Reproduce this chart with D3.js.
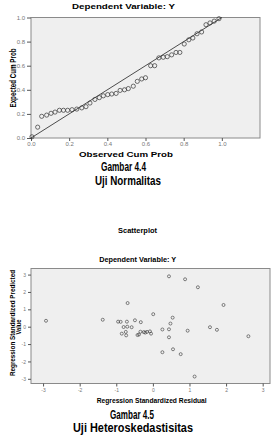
<!DOCTYPE html>
<html>
<head>
<script src="https://d3js.org/d3.v7.min.js"></script>
<style type="text/css">
    html, body {
        margin: 0;
        padding: 0;
        background: #fff;
    }
    svg {
        display: block;
        font-family: Arial, "Liberation Sans", sans-serif;
    }
    .tick text {
        fill: #777;
        font-size: 6px;
    }
    .tick line {
        stroke: #555;
    }
</style>
</head>
<body>
<div id="chart"></div>
<script>
    // P-P plot: observed vs expected cumulative probability
    var ppObserved = [0.005, 0.035, 0.056, 0.082, 0.105, 0.126, 0.149, 0.170, 0.192, 0.215,
                      0.240, 0.266, 0.288, 0.309, 0.335, 0.358, 0.379, 0.402, 0.423, 0.446,
                      0.467, 0.490, 0.510, 0.536, 0.557, 0.580, 0.600, 0.627, 0.648, 0.670,
                      0.693, 0.714, 0.737, 0.760, 0.780, 0.803, 0.827, 0.848, 0.870, 0.894,
                      0.917, 0.938, 0.960, 0.985];
    var ppExpected = [0.01, 0.09, 0.18, 0.19, 0.205, 0.215, 0.23, 0.23, 0.23, 0.235,
                      0.24, 0.25, 0.26, 0.29, 0.32, 0.335, 0.35, 0.36, 0.365, 0.37,
                      0.395, 0.40, 0.41, 0.43, 0.47, 0.49, 0.50, 0.60, 0.60, 0.665,
                      0.67, 0.675, 0.69, 0.71, 0.71, 0.78, 0.815, 0.83, 0.865, 0.88,
                      0.94, 0.955, 0.97, 0.99];
    var ppTicks = [0.0, 0.2, 0.4, 0.6, 0.8, 1.0];

    // scatterplot: standardized residual vs standardized predicted value
    var residual = [-2.92, -1.37, -0.95, -0.88, -0.71, -0.49, -0.33, -0.69, 0.01, 0.44,
                    0.88, 1.23, 1.93, 0.54, 0.48, -0.80, -0.70, -0.58, 0.26, 0.44,
                    0.95, 1.56, 1.75, 2.61, 0.44, -0.34, -0.25, -0.16, -0.08, -0.05,
                    -0.42, -0.38, -0.85, -0.74, -0.73, 0.26, 0.55, 0.76, 1.14, -0.21];
    var predicted = [0.34, 0.40, 0.29, 0.28, 0.29, 0.37, 0.26, 1.36, 0.72, 2.90,
                     2.73, 2.27, 1.25, 0.52, 0.18, -0.02, 0.00, -0.03, -0.16, -0.15,
                     -0.23, -0.03, -0.18, -0.55, -0.61, -0.29, -0.31, -0.30, -0.27, -0.40,
                     -0.48, -0.45, -0.40, -0.30, -0.50, -1.47, -1.30, -1.58, -2.87, -0.34];
    var scTicks = [-3, -2, -1, 0, 1, 2, 3];

    var svg = d3.select('#chart').append('svg')
        .attr('width', 271)
        .attr('height', 435);

    // ---------- top chart ----------
    var x1 = d3.scaleLinear().domain([0, 1.2]).range([31, 260]);
    var y1 = d3.scaleLinear().domain([0, 1]).range([138, 17.5]);

    svg.append('rect')
        .attr('x', x1(0)).attr('y', y1(1))
        .attr('width', x1(1.2) - x1(0)).attr('height', y1(0) - y1(1))
        .attr('fill', '#efefef').attr('stroke', '#8a8a8a').attr('stroke-width', 1);

    var ax1 = svg.append('g').attr('transform', 'translate(0,' + y1(0) + ')')
        .call(d3.axisBottom(x1).tickValues(ppTicks).tickSize(3).tickPadding(1).tickFormat(d3.format('.1f')));
    var ay1 = svg.append('g').attr('transform', 'translate(' + x1(0) + ',0)')
        .call(d3.axisLeft(y1).tickValues(ppTicks).tickSize(4).tickPadding(2).tickFormat(d3.format('.1f')));
    ax1.select('.domain').remove();
    ay1.select('.domain').remove();

    svg.append('line')
        .attr('x1', x1(0)).attr('y1', y1(0))
        .attr('x2', x1(1)).attr('y2', y1(1))
        .attr('stroke', '#222').attr('stroke-width', 0.8);

    svg.append('g').selectAll('circle')
        .data(ppObserved)
        .enter()
        .append('circle')
        .attr('cx', function(d) { return x1(d); })
        .attr('cy', function(d, i) { return y1(ppExpected[i]); })
        .attr('r', 2.1)
        .attr('fill', 'none')
        .attr('stroke', '#333')
        .attr('stroke-width', 0.7);

    svg.append('text').attr('x', 123.5).attr('y', 9)
        .attr('text-anchor', 'middle').attr('font-size', 8).attr('font-weight', 'bold')
        .attr('textLength', 103).attr('lengthAdjust', 'spacingAndGlyphs')
        .text('Dependent Variable: Y');

    svg.append('text').attr('transform', 'translate(16,78) rotate(-90)')
        .attr('text-anchor', 'middle').attr('font-size', 8.5).attr('font-weight', 'bold')
        .attr('textLength', 59).attr('lengthAdjust', 'spacingAndGlyphs')
        .text('Expected Cum Prob');

    svg.append('text').attr('x', 126).attr('y', 157)
        .attr('text-anchor', 'middle').attr('font-size', 7.5).attr('font-weight', 'bold')
        .attr('textLength', 94).attr('lengthAdjust', 'spacingAndGlyphs')
        .text('Observed Cum Prob');

    svg.append('text').attr('x', 123.5).attr('y', 171)
        .attr('text-anchor', 'middle').attr('font-size', 12).attr('font-weight', 'bold')
        .attr('textLength', 45).attr('lengthAdjust', 'spacingAndGlyphs')
        .text('Gambar 4.4');
    svg.append('text').attr('x', 128).attr('y', 184.5)
        .attr('text-anchor', 'middle').attr('font-size', 12).attr('font-weight', 'bold')
        .attr('textLength', 66).attr('lengthAdjust', 'spacingAndGlyphs')
        .text('Uji Normalitas');

    // ---------- bottom chart ----------
    var x2 = d3.scaleLinear().domain([-3.33, 3.2]).range([31, 270]);
    var y2 = d3.scaleLinear().domain([-3.27, 3.35]).range([383.5, 268.5]);
    var intFmt = function(d) { return String(d); };

    svg.append('rect')
        .attr('x', 31).attr('y', 268.5)
        .attr('width', 239).attr('height', 115)
        .attr('fill', '#efefef').attr('stroke', '#8a8a8a').attr('stroke-width', 1);

    var ax2 = svg.append('g').attr('transform', 'translate(0,' + y2.range()[0] + ')')
        .call(d3.axisBottom(x2).tickValues(scTicks).tickSize(3).tickPadding(2).tickFormat(intFmt));
    var ay2 = svg.append('g').attr('transform', 'translate(31,0)')
        .call(d3.axisLeft(y2).tickValues(scTicks).tickSize(3).tickPadding(2).tickFormat(intFmt));
    ax2.select('.domain').remove();
    ay2.select('.domain').remove();
    ax2.selectAll('.tick text').style('font-size', '5px');
    ay2.selectAll('.tick text').style('font-size', '5px');

    svg.append('g').selectAll('circle')
        .data(residual)
        .enter()
        .append('circle')
        .attr('cx', function(d) { return x2(d); })
        .attr('cy', function(d, i) { return y2(predicted[i]); })
        .attr('r', 1.5)
        .attr('fill', 'none')
        .attr('stroke', '#333')
        .attr('stroke-width', 0.6);

    svg.append('text').attr('x', 137.5).attr('y', 233)
        .attr('text-anchor', 'middle').attr('font-size', 7).attr('font-weight', 'bold')
        .attr('textLength', 39).attr('lengthAdjust', 'spacingAndGlyphs')
        .text('Scatterplot');

    svg.append('text').attr('x', 137.7).attr('y', 261.5)
        .attr('text-anchor', 'middle').attr('font-size', 7).attr('font-weight', 'bold')
        .attr('textLength', 77).attr('lengthAdjust', 'spacingAndGlyphs')
        .text('Dependent Variable: Y');

    svg.append('text').attr('transform', 'translate(14.5,323) rotate(-90)')
        .attr('text-anchor', 'middle').attr('font-size', 7).attr('font-weight', 'bold')
        .attr('textLength', 106).attr('lengthAdjust', 'spacingAndGlyphs')
        .text('Regression Standardized Predicted');
    svg.append('text').attr('transform', 'translate(20.5,327) rotate(-90)')
        .attr('text-anchor', 'middle').attr('font-size', 7).attr('font-weight', 'bold')
        .attr('textLength', 15).attr('lengthAdjust', 'spacingAndGlyphs')
        .text('Value');

    svg.append('text').attr('x', 151.7).attr('y', 403)
        .attr('text-anchor', 'middle').attr('font-size', 7).attr('font-weight', 'bold')
        .attr('textLength', 110).attr('lengthAdjust', 'spacingAndGlyphs')
        .text('Regression Standardized Residual');

    svg.append('text').attr('x', 132).attr('y', 419)
        .attr('text-anchor', 'middle').attr('font-size', 12).attr('font-weight', 'bold')
        .attr('textLength', 44).attr('lengthAdjust', 'spacingAndGlyphs')
        .text('Gambar 4.5');
    svg.append('text').attr('x', 133).attr('y', 431.5)
        .attr('text-anchor', 'middle').attr('font-size', 12).attr('font-weight', 'bold')
        .attr('textLength', 120).attr('lengthAdjust', 'spacingAndGlyphs')
        .text('Uji Heteroskedastisitas');
</script>
</body>
</html>
